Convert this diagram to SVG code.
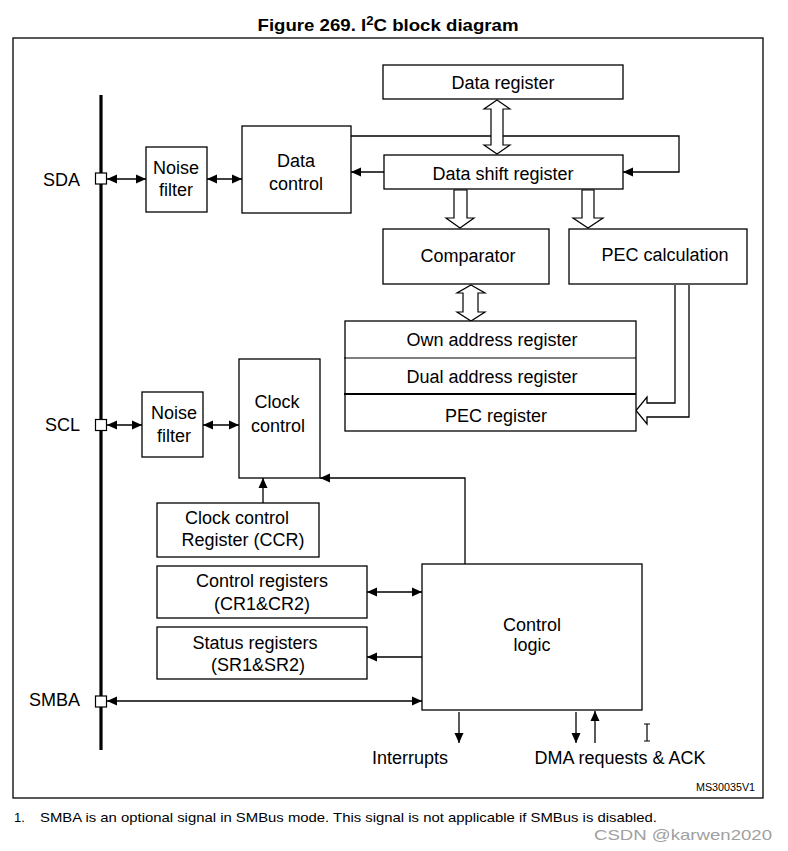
<svg xmlns="http://www.w3.org/2000/svg" width="788" height="851" viewBox="0 0 788 851">
<defs>
<marker id="ah" viewBox="0 0 10 10" refX="10" refY="5" markerWidth="10" markerHeight="10" markerUnits="userSpaceOnUse" orient="auto-start-reverse">
<path d="M0,0.5 L10,5 L0,9.5 z" fill="#000"/>
</marker>
<style>
.box{fill:#fff;stroke:#000;stroke-width:1.3}
.t{font-family:"Liberation Sans",Arial,sans-serif;font-size:18px;fill:#000;text-anchor:middle}
.lbl{font-family:"Liberation Sans",Arial,sans-serif;font-size:18px;fill:#000;text-anchor:end}
.ln{fill:none;stroke:#000;stroke-width:1.3}
.bus{fill:none;stroke:#000;stroke-width:3.2}
.a1{marker-end:url(#ah)}
.a2{marker-start:url(#ah);marker-end:url(#ah)}
.hol{fill:#fff;stroke:#000;stroke-width:1.2}
.pin{fill:#fff;stroke:#000;stroke-width:1.2}
</style>
</defs>
<rect width="788" height="851" fill="#fff"/>
<text x="388" y="31" font-family="'Liberation Sans',Arial,sans-serif" font-size="17" font-weight="bold" text-anchor="middle" textLength="261" lengthAdjust="spacingAndGlyphs">Figure 269. I<tspan font-size="12" dy="-6">2</tspan><tspan dy="6">C block diagram</tspan></text>
<rect x="13" y="38" width="750" height="760" fill="none" stroke="#000" stroke-width="1.3"/>

<g id="connectors">
<path class="bus" d="M101,95 V750"/>
<path class="ln a2" d="M107,179 H146"/>
<path class="ln a2" d="M207,179 H242"/>
<path class="ln a1" d="M351,136 H679 V172 H623"/>
<path class="ln a1" d="M384,172 H351"/>
<path class="ln a2" d="M107,425 H142"/>
<path class="ln a2" d="M203,425 H239"/>
<path class="ln a1" d="M263,503 V478"/>
<path class="ln a1" d="M465,564 V478 H320"/>
<path class="ln a2" d="M367,592 H422"/>
<path class="ln a1" d="M425,657 H367"/>
<path class="ln a2" d="M107,701 H422"/>
<path class="ln a1" d="M459,712 V743"/>
<path class="ln a1" d="M576,712 V743"/>
<path class="ln a1" d="M595,743 V711"/>
<polygon class="hol" points="497,100 510,109 503,109 503,145 510,145 497,154 484,145 491,145 491,109 484,109"/>
<polygon class="hol" points="454,190 467,190 467,218 474,218 460,228 446,218 454,218"/>
<polygon class="hol" points="582,190 594,190 594,218 603,218 588,228 573,218 582,218"/>
<polygon class="hol" points="471,285 485,293 478,293 478,312 485,312 471,321 457,312 463,312 463,293 457,293"/>
<path class="ln" d="M675,285 V403 H647 V397 L636,410.5 L647,424 V417 H689 V285"/>
</g>

<g id="pins">
<rect class="pin" x="95.5" y="173" width="11" height="11"/>
<rect class="pin" x="95.5" y="419.5" width="11" height="11"/>
<rect class="pin" x="95.5" y="696" width="11" height="11"/>
<text class="lbl" x="80" y="186">SDA</text>
<text class="lbl" x="80" y="431">SCL</text>
<text class="lbl" x="80" y="706">SMBA</text>
</g>

<g id="data-register"><rect class="box" x="383" y="65" width="240" height="34"/><text class="t" x="503" y="89">Data register</text></g>
<g id="noise-filter-sda"><rect class="box" x="146" y="147" width="61" height="65"/><text class="t" x="176" y="174">Noise</text><text class="t" x="176" y="196">filter</text></g>
<g id="data-control"><rect class="box" x="242" y="126" width="109" height="87"/><text class="t" x="296" y="167">Data</text><text class="t" x="296" y="190">control</text></g>
<g id="data-shift-register"><rect class="box" x="384" y="155" width="239" height="34"/><text class="t" x="503" y="180">Data shift register</text></g>
<g id="comparator"><rect class="box" x="383" y="229" width="166" height="55"/><text class="t" x="468" y="262">Comparator</text></g>
<g id="pec-calculation"><rect class="box" x="569" y="229" width="178" height="55"/><text class="t" x="665" y="261">PEC calculation</text></g>
<g id="address-registers">
<rect class="box" x="345" y="321" width="291" height="110"/>
<line x1="344" y1="358" x2="636" y2="358" stroke="#000" stroke-width="1.2"/>
<line x1="344" y1="394" x2="636" y2="394" stroke="#000" stroke-width="2"/>
<text class="t" x="492" y="346">Own address register</text>
<text class="t" x="492" y="383">Dual address register</text>
<text class="t" x="496" y="422">PEC register</text>
</g>
<g id="noise-filter-scl"><rect class="box" x="142" y="392" width="61" height="65"/><text class="t" x="174" y="419">Noise</text><text class="t" x="174" y="442">filter</text></g>
<g id="clock-control"><rect class="box" x="239" y="359" width="81" height="119"/><text class="t" x="277" y="408">Clock</text><text class="t" x="278" y="432">control</text></g>
<g id="ccr"><rect class="box" x="157" y="503" width="162" height="54"/><text class="t" x="237" y="524">Clock control</text><text class="t" x="243" y="546">Register (CCR)</text></g>
<g id="control-registers"><rect class="box" x="157" y="566" width="210" height="52"/><text class="t" x="262" y="587">Control registers</text><text class="t" x="262" y="610">(CR1&amp;CR2)</text></g>
<g id="status-registers"><rect class="box" x="157" y="627" width="210" height="52"/><text class="t" x="255" y="649">Status registers</text><text class="t" x="258" y="671">(SR1&amp;SR2)</text></g>
<g id="control-logic"><rect class="box" x="422" y="564" width="220" height="146"/><text class="t" x="532" y="631">Control</text><text class="t" x="532" y="651">logic</text></g>

<text class="t" x="410" y="764">Interrupts</text>
<text class="t" x="620" y="764">DMA requests &amp; ACK</text>
<path d="M644,724 H650 M647,724 V741 M644,741 H650" fill="none" stroke="#000" stroke-width="1.2"/>
<text x="755" y="791" font-family="'Liberation Sans',Arial,sans-serif" font-size="10" text-anchor="end" textLength="59" lengthAdjust="spacingAndGlyphs">MS30035V1</text>
<text x="14" y="822" font-family="'Liberation Sans',Arial,sans-serif" font-size="13">1.</text>
<text x="40" y="822" font-family="'Liberation Sans',Arial,sans-serif" font-size="13" textLength="617" lengthAdjust="spacingAndGlyphs">SMBA is an optional signal in SMBus mode. This signal is not applicable if SMBus is disabled.</text>
<text x="772" y="840" font-family="'Liberation Sans',Arial,sans-serif" font-size="15" fill="#a0a0a0" text-anchor="end" textLength="178" lengthAdjust="spacingAndGlyphs">CSDN @karwen2020</text>
</svg>
